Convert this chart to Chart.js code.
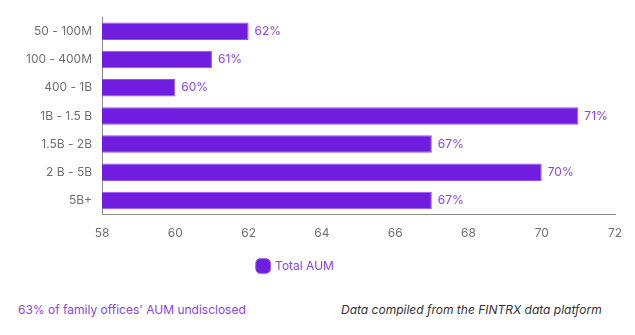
<!DOCTYPE html>
<html>
<head>
<meta charset="utf-8">
<script src="https://cdn.jsdelivr.net/npm/chart.js@4/dist/chart.umd.min.js"></script>
<style>
  body { margin: 0; background: #fff; font-family: Inter, sans-serif; }
  #wrap { position: relative; width: 635px; height: 335px; }
  #box { position: absolute; left: 0; top: 0; width: 635px; height: 282px; }
  .foot { position: absolute; top: 302px; font-size: 12px; }
  #noteLeft { left: 18px; color: #8a45e0; }
  #noteRight { left: 341px; color: #333; font-style: italic; }
</style>
</head>
<body>
<div id="wrap">
  <div id="box"><canvas id="chart"></canvas></div>
  <div class="foot" id="noteLeft">63% of family offices' AUM undisclosed</div>
  <div class="foot" id="noteRight">Data compiled from the FINTRX data platform</div>
</div>
<script>
// aum brackets, top to bottom
const categories = ['50 - 100M', '100 - 400M', '400 - 1B', '1B - 1.5 B', '1.5B - 2B', '2 B - 5B', '5B+'];
const totalAum = [62, 61, 60, 71, 67, 70, 67];
const xTicks = [58, 60, 62, 64, 66, 68, 70, 72];

const BAR = '#701de0';
const LABEL = '#8a45e0';

// percent labels right of each bar
const valueLabels = {
  id: 'valueLabels',
  afterDatasetsDraw(chart) {
    const ctx = chart.ctx;
    const meta = chart.getDatasetMeta(0);
    ctx.save();
    ctx.font = '12px Inter';
    ctx.fillStyle = LABEL;
    ctx.textBaseline = 'middle';
    meta.data.forEach((bar, i) => {
      ctx.fillText(totalAum[i] + '%', bar.x + 6, bar.y);
    });
    ctx.restore();
  }
};

// legend sits a bit left of centre in the original
const nudgeLegend = {
  id: 'nudgeLegend',
  afterLayout(chart) {
    chart.legend.left -= 20;
    chart.legend.right -= 20;
  }
};

new Chart(document.getElementById('chart'), {
  type: 'bar',
  data: {
    labels: categories,
    datasets: [{
      label: 'Total AUM',
      data: totalAum,
      backgroundColor: BAR,
      borderColor: '#8f55ea',
      borderWidth: 1,
      barPercentage: 0.62,
      categoryPercentage: 1
    }]
  },
  options: {
    indexAxis: 'y',
    responsive: true,
    maintainAspectRatio: false,
    animation: false,
    layout: { padding: { left: 16, right: 20, top: 3, bottom: 0 } },
    scales: {
      x: {
        min: 58,
        max: 72,
        afterBuildTicks(axis) { axis.ticks = xTicks.map(v => ({ value: v })); },
        afterFit(axis) { axis.paddingRight = 0; },
        grid: { display: false, drawTicks: false },
        border: { display: true, color: '#888' },
        ticks: { color: '#707070', font: { family: 'Inter', size: 12 }, padding: 12 }
      },
      y: {
        grid: { display: false, drawTicks: false },
        border: { display: true, color: '#888' },
        ticks: { color: '#707070', font: { family: 'Inter', size: 12 }, padding: 10 }
      }
    },
    plugins: {
      legend: {
        position: 'bottom',
        labels: {
          usePointStyle: true,
          pointStyle: 'rectRounded',
          boxWidth: 12,
          boxHeight: 12,
          color: LABEL,
          padding: 7,
          font: { family: 'Inter', size: 12 }
        }
      },
      tooltip: { enabled: false }
    }
  },
  plugins: [valueLabels, nudgeLegend]
});
</script>
</body>
</html>
